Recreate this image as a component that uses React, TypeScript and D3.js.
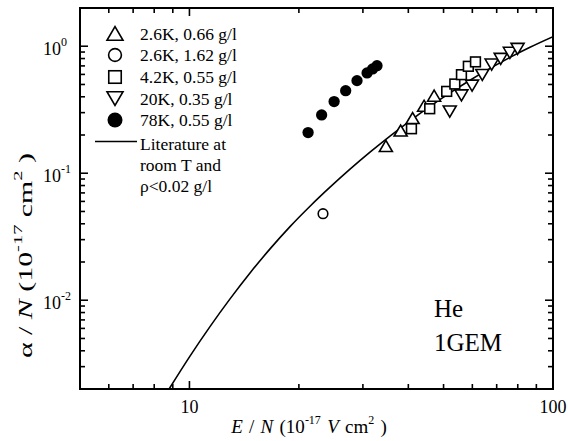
import React from "react";
import * as d3 from "d3";

// ---- data ----
const litE = [8.298, 8.843, 10.035, 11.39, 12.931, 14.676, 16.66, 18.908, 21.462, 24.362, 27.649, 31.379, 35.617, 40.43, 45.888, 52.085, 59.12, 67.101, 76.16, 86.441, 100];
const litAlpha = [0.001529, 0.002055, 0.003632, 0.0062, 0.010245, 0.016386, 0.025365, 0.038, 0.05499, 0.07762, 0.10758, 0.14643, 0.19607, 0.25867, 0.3359, 0.42912, 0.5402, 0.66885, 0.81684, 0.9808, 1.1887];

const triE = [34.7, 38.1, 41.1, 44.2, 47.1];
const triAlpha = [0.164, 0.217, 0.272, 0.34, 0.408];

const openCircE = [23.3];
const openCircAlpha = [0.048];

const sqE = [40.8, 45.8, 51.0, 53.7, 56.0, 58.5, 61.2];
const sqAlpha = [0.224, 0.322, 0.441, 0.504, 0.597, 0.695, 0.753];

const invE = [52.0, 56.0, 59.9, 63.9, 67.8, 71.8, 76.1, 79.9];
const invAlpha = [0.306, 0.41, 0.489, 0.594, 0.717, 0.795, 0.887, 0.953];

const dotE = [21.2, 23.1, 25.0, 26.9, 28.9, 30.8, 31.9, 32.8];
const dotAlpha = [0.209, 0.288, 0.367, 0.447, 0.536, 0.616, 0.663, 0.703];

const legendLabels = ["2.6K, 0.66 g/l", "2.6K, 1.62 g/l", "4.2K, 0.55 g/l", "20K, 0.35 g/l", "78K, 0.55 g/l"];
const legendLitLines = ["Literature at", "room T and", "\u03c1<0.02 g/l"];

const xMajor = [10, 100];
const xMinor = [6, 7, 8, 9, 20, 30, 40, 50, 60, 70, 80, 90];
const yMajor = [0.01, 0.1, 1];
const yMajorExp = ["-2", "-1", "0"];
const yMinor = [0.003, 0.004, 0.005, 0.006, 0.007, 0.008, 0.009, 0.02, 0.03, 0.04, 0.05, 0.06, 0.07, 0.08, 0.09, 0.2, 0.3, 0.4, 0.5, 0.6, 0.7, 0.8, 0.9];

const FONT = "'Liberation Serif', 'Times New Roman', serif";

type Kind = "tri" | "circ" | "sq" | "inv" | "dot";

function Marker({ kind, cx, cy, s }: { kind: Kind; cx: number; cy: number; s: number }) {
  const sw = 1.6;
  if (kind === "tri") {
    const w = s, h = s * 0.85;
    const d = `M${cx - w / 2},${cy + h / 2} L${cx + w / 2},${cy + h / 2} L${cx},${cy - h / 2} Z`;
    return <path d={d} fill="#fff" stroke="#000" strokeWidth={sw} />;
  }
  if (kind === "inv") {
    const w = s, h = s * 0.85;
    const d = `M${cx - w / 2},${cy - h / 2} L${cx + w / 2},${cy - h / 2} L${cx},${cy + h / 2} Z`;
    return <path d={d} fill="#fff" stroke="#000" strokeWidth={sw} />;
  }
  if (kind === "sq") {
    const a = s * 0.78;
    return <rect x={cx - a / 2} y={cy - a / 2} width={a} height={a} fill="#fff" stroke="#000" strokeWidth={sw} />;
  }
  if (kind === "circ") {
    return <circle cx={cx} cy={cy} r={s * 0.4} fill="#fff" stroke="#000" strokeWidth={sw} />;
  }
  return <circle cx={cx} cy={cy} r={s * 0.47} fill="#000" />;
}

export default function App() {
  const W = 568, H = 441;
  const L = 80, R = 553, T = 8, B = 389;
  const x = d3.scaleLog().domain([5, 100]).range([L, R]);
  const y = d3.scaleLog().domain([0.002, 2]).range([B, T]);

  const line = d3
    .line<number>()
    .x((_, i) => x(litE[i]))
    .y((d) => y(d))
    .curve(d3.curveMonotoneX);

  const series: { kind: Kind; E: number[]; A: number[]; s: number }[] = [
    { kind: "circ", E: openCircE, A: openCircAlpha, s: 12 },
    { kind: "dot", E: dotE, A: dotAlpha, s: 12 },
    { kind: "tri", E: triE, A: triAlpha, s: 13 },
    { kind: "inv", E: invE, A: invAlpha, s: 13 },
    { kind: "sq", E: sqE, A: sqAlpha, s: 12.5 },
  ];

  const legendKinds: Kind[] = ["tri", "circ", "sq", "inv", "dot"];
  const legendBase = [39.5, 61, 83, 104.5, 126];
  const litBase = [149.5, 170.5, 191.5];

  const majLen = 8, minLen = 5;

  return (
    <svg
      width={W}
      height={H}
      style={{ position: "absolute", left: 0, top: 0, background: "#fff" }}
      fontFamily={FONT}
    >
      <rect x={0} y={0} width={W} height={H} fill="#fff" />
      <defs>
        <clipPath id="plotclip">
          <rect x={L} y={T} width={R - L} height={B - T} />
        </clipPath>
      </defs>

      {/* literature curve */}
      <path d={line(litAlpha) || ""} fill="none" stroke="#000" strokeWidth={1.6} clipPath="url(#plotclip)" />

      {/* data */}
      {series.map((se, si) =>
        se.E.map((e, i) => <Marker key={`${si}-${i}`} kind={se.kind} cx={x(e)} cy={y(se.A[i])} s={se.s} />)
      )}

      {/* ticks */}
      <g stroke="#000" strokeWidth={1.6}>
        {xMajor.map((v) => (
          <g key={`xm${v}`}>
            <line x1={x(v)} x2={x(v)} y1={B} y2={B - majLen} />
            <line x1={x(v)} x2={x(v)} y1={T} y2={T + majLen} />
          </g>
        ))}
        {xMinor.map((v) => (
          <g key={`xn${v}`}>
            <line x1={x(v)} x2={x(v)} y1={B} y2={B - minLen} />
            <line x1={x(v)} x2={x(v)} y1={T} y2={T + minLen} />
          </g>
        ))}
        {yMajor.map((v) => (
          <g key={`ym${v}`}>
            <line x1={L} x2={L + majLen} y1={y(v)} y2={y(v)} />
            <line x1={R} x2={R - majLen} y1={y(v)} y2={y(v)} />
          </g>
        ))}
        {yMinor.map((v) => (
          <g key={`yn${v}`}>
            <line x1={L} x2={L + minLen} y1={y(v)} y2={y(v)} />
            <line x1={R} x2={R - minLen} y1={y(v)} y2={y(v)} />
          </g>
        ))}
      </g>

      {/* frame */}
      <rect x={L} y={T} width={R - L} height={B - T} fill="none" stroke="#000" strokeWidth={2} />

      {/* x tick labels */}
      {xMajor.map((v) => (
        <text key={`xl${v}`} x={x(v)} y={413} textAnchor="middle" fontSize={18}>
          {String(v)}
        </text>
      ))}

      {/* y tick labels */}
      {yMajor.map((v, i) => (
        <text key={`yl${v}`} x={43} y={y(v) + 9} fontSize={18}>
          10
          <tspan dy={-9} fontSize={12}>
            {yMajorExp[i]}
          </tspan>
        </text>
      ))}

      {/* axis titles */}
      <text x={309} y={433} fontSize={19} textAnchor="middle" wordSpacing={1.5}>
        <tspan fontStyle="italic">E</tspan>
        <tspan> / </tspan>
        <tspan fontStyle="italic">N</tspan>
        <tspan> (10</tspan>
        <tspan dy={-9} fontSize={12}>-17</tspan>
        <tspan dy={9}> </tspan>
        <tspan fontStyle="italic">V</tspan>
        <tspan> cm</tspan>
        <tspan dy={-9} fontSize={12}>2</tspan>
        <tspan dy={9}> )</tspan>
      </text>
      <text transform="translate(32,358) rotate(-90)" fontSize={19} textLength={205} lengthAdjust="spacingAndGlyphs">
        <tspan>α / </tspan>
        <tspan fontStyle="italic">N</tspan>
        <tspan> (10</tspan>
        <tspan dy={-10} fontSize={13}>-17</tspan>
        <tspan dy={10}> cm</tspan>
        <tspan dy={-10} fontSize={13}>2</tspan>
        <tspan dy={10}> )</tspan>
      </text>

      {/* legend */}
      {legendKinds.map((k, i) => (
        <g key={`lg${i}`}>
          <Marker kind={k} cx={115} cy={legendBase[i] - 6} s={16} />
          <text x={140} y={legendBase[i]} fontSize={17.5}>
            {legendLabels[i]}
          </text>
        </g>
      ))}
      <line x1={95} x2={137} y1={141.5} y2={141.5} stroke="#000" strokeWidth={1.6} />
      {legendLitLines.map((t, i) => (
        <text key={`lit${i}`} x={140} y={litBase[i]} fontSize={17.5}>
          {t}
        </text>
      ))}

      {/* annotation */}
      <text x={434} y={317} fontSize={25}>He</text>
      <text x={434} y={351} fontSize={25}>1GEM</text>
    </svg>
  );
}
